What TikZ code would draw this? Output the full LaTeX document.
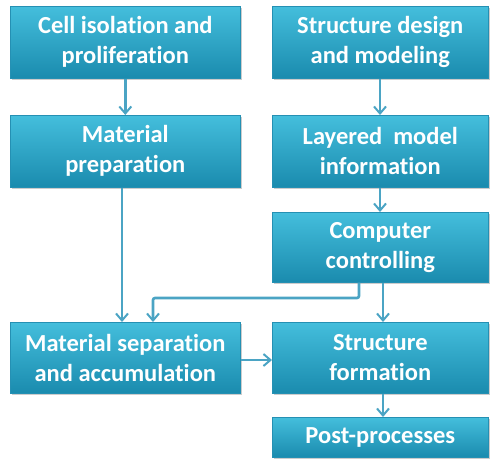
\documentclass[tikz,border=0pt]{standalone}
\usepackage{fontspec}
\setmainfont{Carlito}[Ligatures=NoCommon]
\usetikzlibrary{shadows,arrows.meta}
\definecolor{boxtop}{HTML}{44BEDC}
\definecolor{boxbot}{HTML}{1A8BAE}
\definecolor{boxedge}{HTML}{2590B3}
\definecolor{arrowc}{HTML}{4BA4C4}
\tikzset{
  box/.style={draw=boxedge, line width=0.6pt, top color=boxtop, bottom color=boxbot,
    drop shadow={shadow xshift=1.5pt, shadow yshift=-2pt, opacity=0.4},
    text=white, font=\bfseries\fontsize{24.5}{30}\selectfont, align=center,
    inner sep=0pt, anchor=north west},
  conn/.style={draw=arrowc, line width=2.6pt, -{Straight Barb[length=7pt,width=12pt,line width=2pt]}},
}
\begin{document}
\begin{tikzpicture}[x=1pt,y=-1pt]
\useasboundingbox (0,0) rectangle (500,466);
\node[box, minimum width=230pt, minimum height=72pt] (cell) at (10,6) {Cell isolation and\\proliferation};
\node[box, minimum width=230pt, minimum height=72pt] (mat) at (10,115) {Material\\preparation};
\node[box, minimum width=230pt, minimum height=71pt] (sep) at (10,322) {Material separation\\and accumulation};
\node[box, minimum width=216pt, minimum height=72pt] (design) at (272,6) {Structure design\\and modeling};
\node[box, minimum width=216pt, minimum height=72pt] (layer) at (272,115) {Layered\ \ model\\information};
\node[box, minimum width=216pt, minimum height=70pt] (comp) at (272,212) {Computer\\controlling};
\node[box, minimum width=216pt, minimum height=71pt] (form) at (272,322) {Structure\\formation};
\node[box, minimum width=216pt, minimum height=40pt] (post) at (272,417) {Post-processes};
\draw[conn] (cell.south) -- (mat.north);
\draw[conn] (mat.south -| 122,0) -- (sep.north -| 122,0);
\draw[conn] (design.south -| 380,0) -- (layer.north -| 380,0);
\draw[conn] (layer.south -| 380,0) -- (comp.north -| 380,0);
\draw[conn] (comp.south -| 383,0) -- (form.north -| 383,0);
\draw[conn, rounded corners=2pt] (comp.south -| 359,0) -- (359,298) -- (153,298) -- (sep.north -| 153,0);
\draw[conn] (sep.east |- 0,360) -- (form.west |- 0,360);
\draw[conn] (form.south -| 383,0) -- (post.north -| 383,0);
\end{tikzpicture}
\end{document}
